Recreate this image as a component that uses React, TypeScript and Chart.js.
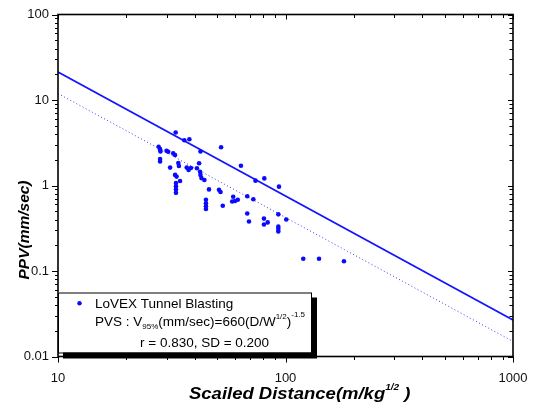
import React, { useEffect, useRef } from 'react';
import { Chart, registerables } from 'chart.js';

Chart.register(...registerables);

// Scaled distance (m/kg^1/2) of each record
const distance = [
  32.9, 35.9, 37.8, 42.3, 52.1, 63.7, 73.8, 80.7, 93.6, 27.7,
  28.1, 28.2, 30.0, 30.5, 32.1, 32.7, 28.1, 28.1, 31.1, 33.8,
  34.0, 36.8, 37.5, 38.4, 40.8, 41.7, 42.1, 42.3, 42.7, 44.0,
  32.7, 33.2, 34.4, 33.0, 33.0, 33.0, 33.0, 46.1, 51.0, 51.8,
  44.7, 44.7, 44.7, 44.7, 53.0, 58.9, 58.3, 60.0, 61.7, 67.9,
  72.2, 67.9, 69.1, 80.4, 80.4, 83.5, 93.0, 100.8, 93.0, 93.0,
  93.0, 119.7, 140.4, 180.7,
];
// Peak particle velocity (mm/sec) of each record
const ppv = [
  4.17, 3.38, 3.47, 2.50, 2.80, 1.70, 1.14, 1.21, 0.97, 2.84,
  2.66, 2.50, 2.55, 2.48, 2.38, 2.27, 2.04, 1.91, 1.62, 1.83,
  1.69, 1.62, 1.52, 1.60, 1.59, 1.82, 1.45, 1.33, 1.22, 1.16,
  1.33, 1.27, 1.13, 1.07, 0.98, 0.90, 0.82, 0.90, 0.89, 0.84,
  0.68, 0.62, 0.57, 0.53, 0.58, 0.74, 0.65, 0.66, 0.68, 0.75,
  0.69, 0.47, 0.38, 0.41, 0.35, 0.37, 0.46, 0.40, 0.33, 0.31,
  0.29, 0.139, 0.139, 0.130,
];

// Fitted lines (end points over the x range)
const lineX = [10, 1000];
const pvs95Y = [21.3, 0.0267]; // solid: 95% PVS line
const meanY = [11.9, 0.015]; // dotted: mean regression line

const xMajor = [10, 100, 1000];
const yMajor = [0.01, 0.1, 1, 10, 100];

const seriesLabel = 'LoVEX Tunnel Blasting';
const statsLabel = 'r = 0.830, SD = 0.200';
const yTitle = 'PPV(mm/sec)';
const xTitle = 'Scailed Distance';

const BLUE = '#0a0aff';
const FONT = '"Liberation Sans", Arial, Helvetica, sans-serif';

function minorValues(majors: number[]): number[] {
  const out: number[] = [];
  for (let i = 0; i < majors.length - 1; i++) {
    for (let m = 2; m <= 9; m++) out.push(majors[i] * m);
  }
  return out;
}

const framePlugin = {
  id: 'frameTicks',
  afterDatasetsDraw(chart: any) {
    const { ctx, chartArea: a, scales } = chart;
    const x = scales.x;
    const y = scales.y;
    ctx.save();
    ctx.strokeStyle = '#000';
    ctx.lineWidth = 1;
    const tick = (x1: number, y1: number, x2: number, y2: number) => {
      ctx.beginPath();
      ctx.moveTo(x1, y1);
      ctx.lineTo(x2, y2);
      ctx.stroke();
    };
    xMajor.forEach((v) => {
      const p = Math.round(x.getPixelForValue(v)) + 0.5;
      tick(p, a.bottom, p, a.bottom + 6);
      tick(p, a.top, p, a.top + 5);
    });
    minorValues(xMajor).forEach((v) => {
      const p = Math.round(x.getPixelForValue(v)) + 0.5;
      tick(p, a.bottom, p, a.bottom + 3.5);
      tick(p, a.top, p, a.top + 3.5);
    });
    yMajor.forEach((v) => {
      const p = Math.round(y.getPixelForValue(v)) + 0.5;
      tick(a.left - 6, p, a.left, p);
      tick(a.right - 5, p, a.right, p);
    });
    minorValues(yMajor).forEach((v) => {
      const p = Math.round(y.getPixelForValue(v)) + 0.5;
      tick(a.left - 3, p, a.left, p);
      tick(a.right - 3.5, p, a.right, p);
    });
    ctx.lineWidth = 1.6;
    ctx.strokeRect(a.left, a.top, a.right - a.left, a.bottom - a.top);
    ctx.restore();
  },
  afterDraw(chart: any) {
    const { ctx, chartArea: a } = chart;
    ctx.save();
    // ---- legend box with drop shadow ----
    const bx = a.left;
    const by = a.bottom - 64;
    const bw = 253;
    const bh = 60;
    ctx.fillStyle = '#000';
    ctx.fillRect(bx + 5, by + 5, bw + 1, bh + 1);
    ctx.fillStyle = '#fff';
    ctx.fillRect(bx, by, bw, bh);
    ctx.strokeStyle = '#000';
    ctx.lineWidth = 1;
    ctx.strokeRect(bx + 0.5, by + 0.5, bw, bh);

    ctx.fillStyle = BLUE;
    ctx.beginPath();
    ctx.arc(bx + 21.5, by + 10.7, 2.2, 0, Math.PI * 2);
    ctx.fill();

    ctx.fillStyle = '#000';
    ctx.textBaseline = 'alphabetic';
    ctx.textAlign = 'left';
    const big = `13.5px ${FONT}`;
    const small = `8px ${FONT}`;
    ctx.font = big;
    ctx.fillText(seriesLabel, bx + 37, by + 15.5);

    let cx = bx + 37;
    const base = by + 33;
    const put = (t: string, f: string, dy: number) => {
      ctx.font = f;
      ctx.fillText(t, cx, base + dy);
      cx += ctx.measureText(t).width;
    };
    put('PVS : V', big, 0);
    put('95%', small, 3);
    put('(mm/sec)=660(D/W', big, 0);
    put('1/2', small, -7);
    put(')', big, 0);
    put('-1.5', small, -9);

    ctx.font = big;
    ctx.fillText(statsLabel, bx + 82, by + 54.5);

    // ---- axis titles ----
    ctx.fillStyle = '#000';
    ctx.font = `italic bold 15.5px ${FONT}`;
    ctx.save();
    ctx.translate(29, 230);
    ctx.rotate(-Math.PI / 2);
    ctx.textAlign = 'center';
    ctx.fillText(yTitle, 0, 0);
    ctx.restore();

    ctx.save();
    ctx.translate(189, 399);
    ctx.scale(1.12, 1);
    let tx = 0;
    const seg = (t: string, f: string, dy: number) => {
      ctx.font = f;
      ctx.fillText(t, tx, dy);
      tx += ctx.measureText(t).width;
    };
    const tf = `italic bold 16.5px ${FONT}`;
    seg(xTitle, tf, 0);
    seg('(m/kg', tf, 0);
    seg('1/2', `italic bold 9px ${FONT}`, -9);
    seg(' )', tf, 0);
    ctx.restore();
    ctx.restore();
  },
};

function isDecade(v: number) {
  const l = Math.log10(v);
  return Math.abs(l - Math.round(l)) < 1e-9;
}

export default function App() {
  const ref = useRef<HTMLCanvasElement | null>(null);
  useEffect(() => {
    if (!ref.current) return;
    Chart.defaults.font.family = FONT;
    const points = distance.map((d, i) => ({ x: d, y: ppv[i] }));
    const chart = new Chart(ref.current, {
      type: 'scatter',
      data: {
        datasets: [
          {
            label: seriesLabel,
            data: points,
            backgroundColor: BLUE,
            borderColor: BLUE,
            pointRadius: 2.3,
            pointBorderWidth: 0,
            showLine: false,
          },
          {
            label: 'PVS 95%',
            data: lineX.map((x, i) => ({ x, y: pvs95Y[i] })),
            showLine: true,
            borderColor: '#1414ff',
            borderWidth: 1.8,
            pointRadius: 0,
          },
          {
            label: 'Mean',
            data: lineX.map((x, i) => ({ x, y: meanY[i] })),
            showLine: true,
            borderColor: '#3a3aff',
            borderWidth: 1,
            borderDash: [1, 2.5],
            pointRadius: 0,
          },
        ],
      },
      options: {
        animation: false,
        responsive: true,
        maintainAspectRatio: false,
        layout: { autoPadding: false, padding: { left: 0, right: 20, top: 14.5, bottom: 0 } },
        plugins: { legend: { display: false }, tooltip: { enabled: false } },
        scales: {
          x: {
            type: 'logarithmic',
            min: 10,
            max: 1000,
            offset: false,
            grid: { display: false, drawTicks: false, offset: false },
            border: { display: false },
            afterBuildTicks: (s: any) => {
              s.ticks = xMajor.map((v) => ({ value: v }));
            },
            afterFit: (s: any) => {
              s.height = 46.5;
              s.paddingLeft = 0;
              s.paddingRight = 0;
              s.paddingTop = 0;
              s.paddingBottom = 0;
            },
            ticks: {
              autoSkip: false,
              maxRotation: 0,
              padding: 14,
              color: '#111',
              font: { size: 13 },
              callback: (v: any) => (isDecade(Number(v)) ? String(Number(v)) : ''),
            },
          },
          y: {
            type: 'logarithmic',
            min: 0.01,
            max: 100,
            offset: false,
            grid: { display: false, drawTicks: false, offset: false },
            border: { display: false },
            afterBuildTicks: (s: any) => {
              s.ticks = yMajor.map((v) => ({ value: v }));
            },
            afterFit: (s: any) => {
              s.width = 58;
              s.paddingLeft = 0;
              s.paddingRight = 0;
              s.paddingTop = 0;
              s.paddingBottom = 0;
            },
            ticks: {
              autoSkip: false,
              padding: 9,
              color: '#111',
              font: { size: 13 },
              callback: (v: any) => (isDecade(Number(v)) ? String(Number(v)) : ''),
            },
          },
        },
      },
      plugins: [framePlugin],
    });
    return () => chart.destroy();
  }, []);
  return (
    <div style={{ position: 'fixed', left: 0, top: 0, width: 533, height: 403, background: '#fff' }}>
      <canvas ref={ref} />
    </div>
  );
}
